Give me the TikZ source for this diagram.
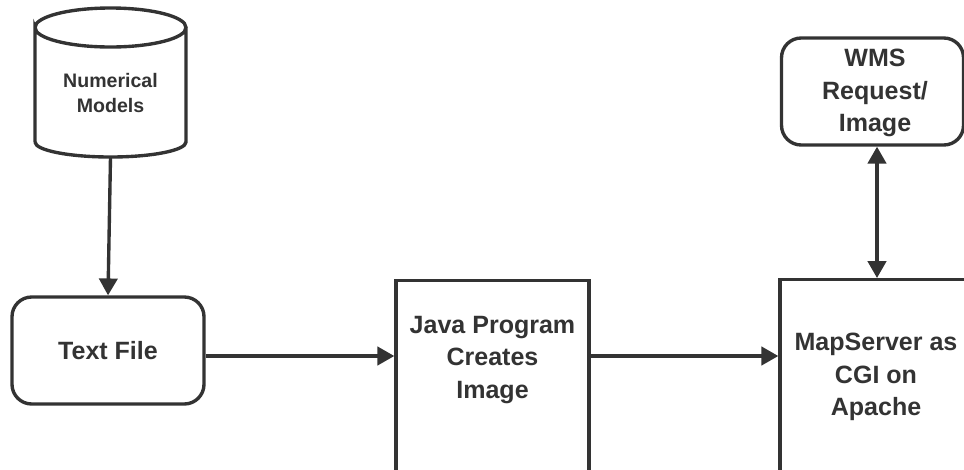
\documentclass[tikz,border=0pt]{standalone}
\usepackage{fontspec}
\setmainfont{Liberation Sans}
\usetikzlibrary{arrows.meta}
\definecolor{inkgray}{HTML}{333333}
\tikzset{
  flow/.style={draw=inkgray, line width=2.4pt},
  arr/.style={flow, -{Triangle[width=13pt,length=12pt]}},
  dblarr/.style={flow, {Triangle[width=13pt,length=12pt]}-{Triangle[width=13pt,length=12pt]}},
  roundbox/.style={flow, rectangle, rounded corners=14pt, inner sep=0pt},
  procbox/.style={flow, rectangle, inner sep=0pt, anchor=north},
  bigtext/.style={text=inkgray, font=\bfseries\fontsize{17.8}{23}\selectfont, align=center},
  smalltext/.style={text=inkgray, font=\bfseries\fontsize{13.9}{18.4}\selectfont, align=center}
}
\begin{document}
\begin{tikzpicture}[x=0.025cm, y=-0.025cm]
  \useasboundingbox (0,0) rectangle (964,469);
  \clip (0,0) rectangle (964,469);

  % data store drawn by hand
  \draw[flow, fill=white] (35,142) -- (35,27.5) arc[start angle=180, end angle=-180, x radius=75.5, y radius=19.5]
    (186,27.5) -- (186,142) arc[start angle=0, end angle=180, x radius=75.5, y radius=15];
  \node[smalltext] (models) at (110.5,93) {Numerical\\Models};
  \coordinate (modelsbase) at (110.5,157);

  \node[roundbox, minimum width=192*0.025cm, minimum height=107*0.025cm,
        bigtext] (textfile) at (108,350.5) {Text File};
  \node[procbox, minimum width=193*0.025cm, minimum height=300*0.025cm] (java) at (492.5,279) {};
  \node[bigtext] (javatext) at (492.5,360) {Java Program\\Creates\\Image};
  \node[procbox, minimum width=194*0.025cm, minimum height=300*0.025cm] (map) at (877,278) {};
  \node[bigtext] (maptext) at (876,377) {MapServer as\\CGI on\\Apache};
  \node[roundbox, minimum width=182*0.025cm, minimum height=107*0.025cm] (wms) at (872.5,91.5) {};
  \node[bigtext] (wmstext) at (875,93) {WMS\\Request/\\Image};
  \coordinate (flowlevel) at (0,356);

  \draw[arr] (modelsbase) -- (textfile.north);
  \draw[arr] (textfile.east |- flowlevel) -- (java.west |- flowlevel);
  \draw[arr] (java.east |- flowlevel) -- (map.west |- flowlevel);
  \draw[dblarr] (map.north |- wms.south) -- (map.north);
\end{tikzpicture}
\end{document}
